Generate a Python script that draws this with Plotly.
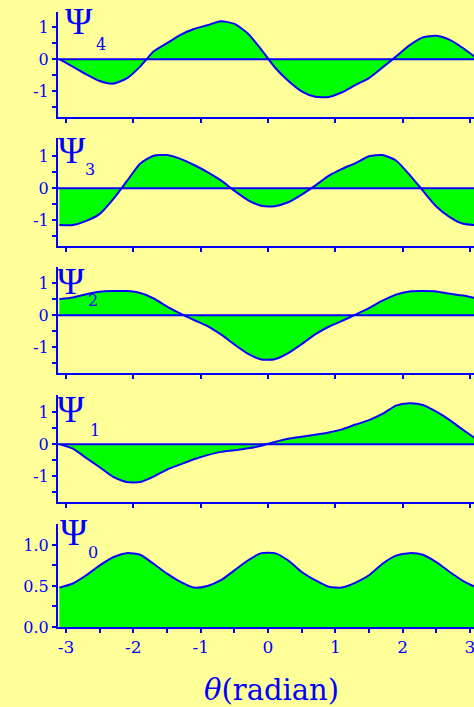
import plotly.graph_objects as go

# ---------------- data ----------------
theta = [-3.1, -2.9, -2.7, -2.5, -2.3, -2.1, -1.9, -1.7, -1.5, -1.3, -1.1, -0.9, -0.7, -0.5, -0.3, -0.1,
         0.1, 0.3, 0.5, 0.7, 0.9, 1.1, 1.3, 1.5, 1.7, 1.9, 2.1, 2.3, 2.5, 2.7, 2.9, 3.1]

psi4 = [0.0, -0.23, -0.47, -0.68, -0.76, -0.6, -0.23, 0.24, 0.5, 0.76, 0.94, 1.06, 1.18, 1.1, 0.8, 0.3,
        -0.25, -0.67, -1.0, -1.17, -1.18, -1.03, -0.8, -0.59, -0.26, 0.08, 0.43, 0.68, 0.73, 0.6, 0.34, 0.03]
psi3 = [-1.15, -1.15, -1.02, -0.8, -0.34, 0.21, 0.76, 1.01, 1.03, 0.91, 0.72, 0.5, 0.24, -0.08, -0.37, -0.55,
        -0.56, -0.44, -0.2, 0.08, 0.38, 0.6, 0.78, 0.99, 1.03, 0.86, 0.42, -0.08, -0.57, -0.9, -1.11, -1.15]
psi2 = [0.5, 0.55, 0.65, 0.73, 0.75, 0.75, 0.69, 0.52, 0.27, 0.05, -0.15, -0.34, -0.6, -0.91, -1.2, -1.38,
        -1.37, -1.18, -0.9, -0.6, -0.36, -0.18, 0.02, 0.22, 0.45, 0.64, 0.74, 0.75, 0.74, 0.67, 0.61, 0.52]
psi1 = [0.0, -0.14, -0.43, -0.72, -1.02, -1.18, -1.18, -1.01, -0.79, -0.63, -0.47, -0.34, -0.24, -0.19, -0.13, -0.05,
        0.07, 0.17, 0.23, 0.29, 0.36, 0.46, 0.61, 0.75, 0.94, 1.2, 1.27, 1.22, 1.01, 0.75, 0.44, 0.15]
psi0 = [0.48, 0.53, 0.63, 0.75, 0.85, 0.9, 0.88, 0.77, 0.65, 0.55, 0.48, 0.5, 0.57, 0.69, 0.81, 0.9,
        0.9, 0.81, 0.67, 0.57, 0.49, 0.48, 0.54, 0.63, 0.77, 0.87, 0.9, 0.88, 0.79, 0.67, 0.56, 0.48]

state_labels = ["4", "3", "2", "1", "0"]
x_tick_vals = [-3, -2, -1, 0, 1, 2, 3]
x_tick_vals_bottom = [-3, -2.5, -2, -1.5, -1, -0.5, 0, 0.5, 1, 1.5, 2, 2.5, 3]
x_tick_text_bottom = ["-3", "", "-2", "", "-1", "", "0", "", "1", "", "2", "", "3"]
y_tick_vals = [-1.5, -1, -0.5, 0, 0.5, 1]
y_tick_text = ["", "-1", "", "0", "", "1"]
y_tick_vals0 = [0, 0.25, 0.5, 0.75, 1.0]
y_tick_text0 = ["0.0", "", "0.5", "", "1.0"]
x_title = "<i>θ</i>(radian)"

# ---------------- style / layout ----------------
W, H = 474, 707
BG = "#FFFF99"
BLUE = "#0000FF"
GREEN = "#00FF00"
FONT = "Liberation Serif"
TFONT = "DejaVu Serif"

series = [psi4, psi3, psi2, psi1, psi0]
panel_px = [(12, 117), (138, 246), (267, 373), (395, 502), (524, 627)]
y_ranges = [[-1.8, 1.47], [-1.8, 1.56], [-1.8, 1.5], [-1.8, 1.53], [0, 1.255]]
x_range = [-3.12, 3.06]
x_left = 58
psi_pos = [(79, 22), (72, 151), (71, 281), (71, 409), (74, 532)]
sub_pos = [(101, 44), (90, 170), (93, 301), (95, 430), (93, 552)]

fig = go.Figure()
layout = dict(
    width=W, height=H,
    margin=dict(l=0, r=0, t=0, b=0, autoexpand=False),
    paper_bgcolor=BG, plot_bgcolor=BG,
    showlegend=False,
    font=dict(family=TFONT, color=BLUE, size=16),
)

annotations = []
shapes = []
for i, vals in enumerate(series):
    n = i + 1
    xa = "x" if n == 1 else f"x{n}"
    ya = "y" if n == 1 else f"y{n}"
    fig.add_trace(go.Scatter(
        x=theta, y=vals, xaxis=xa, yaxis=ya,
        mode="lines", line=dict(color=BLUE, width=2, shape="spline", smoothing=0.6),
        fill="tozeroy", fillcolor=GREEN, hoverinfo="skip",
    ))
    top, bot = panel_px[i]
    dom_y = [1 - bot / H, 1 - top / H]
    bottom = (i == 4)
    layout[f"xaxis{n if n > 1 else ''}"] = dict(
        domain=[x_left / W, 1], range=x_range, anchor=ya,
        showgrid=False, zeroline=False, automargin=False,
        showline=True, linecolor=BLUE, linewidth=2,
        ticks="outside", ticklen=4, tickwidth=2, tickcolor=BLUE,
        tickmode="array",
        tickvals=x_tick_vals_bottom if bottom else x_tick_vals,
        ticktext=x_tick_text_bottom if bottom else None,
        showticklabels=bottom, ticklabeloverflow="allow",
        tickfont=dict(family=TFONT, size=17, color=BLUE),
    )
    layout[f"yaxis{n if n > 1 else ''}"] = dict(
        domain=dom_y, range=y_ranges[i], anchor=xa,
        showgrid=False, zeroline=False, automargin=False,
        showline=True, linecolor=BLUE, linewidth=2,
        ticks="outside", ticklen=4, tickwidth=2, tickcolor=BLUE,
        tickmode="array",
        tickvals=y_tick_vals0 if bottom else y_tick_vals,
        ticktext=y_tick_text0 if bottom else y_tick_text,
        tickfont=dict(family=TFONT, size=16, color=BLUE),
    )
    if not bottom:
        shapes.append(dict(type="line", xref=f"{xa} domain", yref=ya,
                           x0=0, x1=1, y0=0, y1=0, layer="above",
                           line=dict(color=BLUE, width=2)))
    px, py = psi_pos[i]
    annotations.append(dict(text="Ψ", xref="paper", yref="paper",
                            x=px / W, y=1 - py / H, xanchor="center", yanchor="middle",
                            showarrow=False, font=dict(family=FONT, size=37, color=BLUE)))
    sx, sy = sub_pos[i]
    annotations.append(dict(text=state_labels[i], xref="paper", yref="paper",
                            x=sx / W, y=1 - sy / H, xanchor="center", yanchor="middle",
                            showarrow=False, font=dict(family=TFONT, size=16, color=BLUE)))

annotations.append(dict(text=x_title, xref="paper", yref="paper",
                        x=271 / W, y=1 - 690 / H, xanchor="center", yanchor="middle",
                        showarrow=False, font=dict(family=TFONT, size=29, color=BLUE)))

layout["annotations"] = annotations
layout["shapes"] = shapes
fig.update_layout(**layout)

post = (
    "document.documentElement.style.margin='0';"
    "document.documentElement.style.overflow='hidden';"
    "document.body.style.margin='0';"
    "document.body.style.overflow='hidden';"
    "var d=document.getElementById('{plot_id}');"
    "d.style.position='fixed';d.style.left='0px';d.style.top='0px';"
)
fig.write_html(
    "out.html",
    config={"displayModeBar": False, "responsive": False},
    post_script=post,
)
